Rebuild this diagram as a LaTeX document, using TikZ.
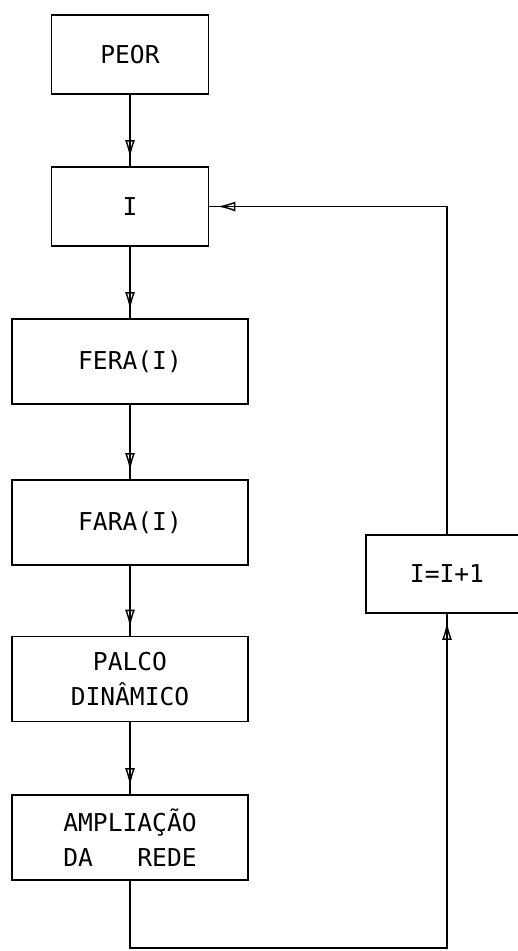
\documentclass[tikz,border=0pt]{standalone}
\usepackage{fontspec}
\setmonofont{DejaVu Sans Mono}
\usetikzlibrary{arrows.meta,decorations.markings}
\begin{document}
\begin{tikzpicture}[x=0.2mm,y=-0.2mm,
  caixa/.style={draw,line width=1pt,inner sep=0pt,align=center,
    font=\ttfamily\fontsize{14}{20}\selectfont,
    minimum width=31.4mm,minimum height=15.8mm},
  caixalarga/.style={caixa,minimum width=47.2mm,minimum height=17mm},
  caixainc/.style={caixa,minimum width=32.4mm,minimum height=15.6mm},
  flecha/.style={line width=0.6pt,postaction={decorate},
    decoration={markings,mark=at position -1.6mm with
      {\arrow{Latex[open,length=3.6mm,width=2mm,line width=0.8pt]}}}}]
\useasboundingbox (0,0) rectangle (518,951);
\clip (0,0) rectangle (518,951);
% coluna principal
\node[caixa] (peor) at (130,54.5) {PEOR};
\node[caixa] (i) at (130,206.5) {I};
\node[caixalarga] (fera) at (130,361.5) {FERA(I)};
\node[caixalarga] (fara) at (130,522.5) {FARA(I)};
\node[caixalarga] (palco) at (130,679) {PALCO\\DINÂMICO};
\node[caixalarga] (ampl) at (130,837.5) {AMPLIAÇÃO\\DA\ \ \ REDE};
% incremento do indice
\node[caixainc] (inc) at (447,574) {I=I+1};
\coordinate (fundo) at (447,948);
\draw[flecha] (peor) -- (i);
\draw[flecha] (i) -- (fera);
\draw[flecha] (fera) -- (fara);
\draw[flecha] (fara) -- (palco);
\draw[flecha] (palco) -- (ampl);
% laco de volta
\draw[flecha] (ampl.south) |- (fundo) -- (inc.south);
\draw[flecha] (inc.north) |- (i.east);
\end{tikzpicture}
\end{document}
